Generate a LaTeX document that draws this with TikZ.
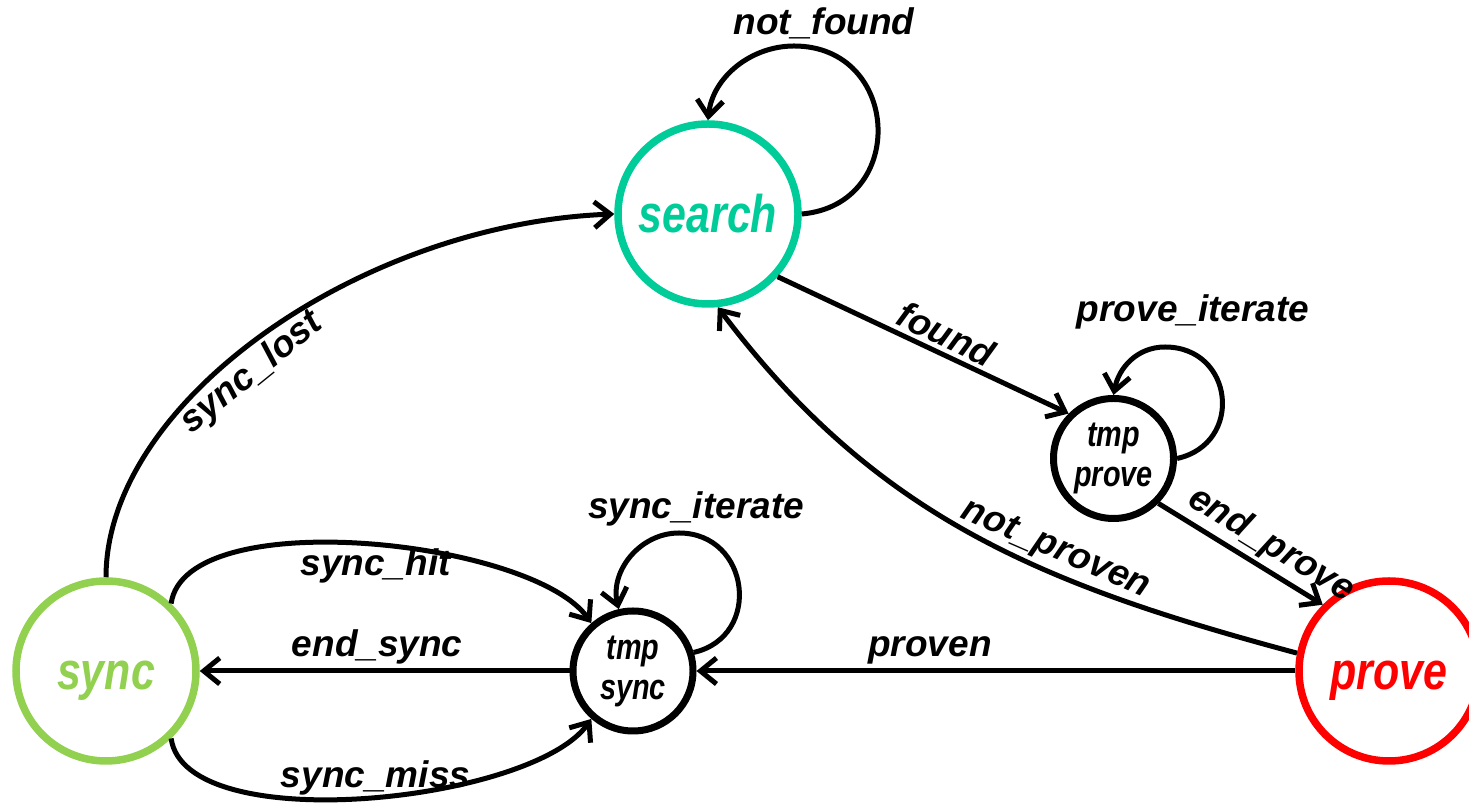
\documentclass[tikz,border=0pt]{standalone}
\usepackage{fontspec}
\setmainfont{Liberation Sans}
\usetikzlibrary{arrows.meta}

\definecolor{searchc}{HTML}{00CC99}
\definecolor{syncc}{HTML}{92D050}
\definecolor{provec}{HTML}{FF0000}

\newcommand\lblfont{\bfseries\itshape\fontsize{37pt}{44pt}\selectfont}
\newcommand\bigfont{\bfseries\itshape\fontsize{53pt}{60pt}\selectfont}
\newcommand\smallfont{\bfseries\itshape\fontsize{36pt}{40pt}\selectfont}
\newcommand\narrow[2][0.81]{\scalebox{#1}[1]{#2}}

\begin{document}
\begin{tikzpicture}[x=1pt,y=1pt,
  fsm/.style={circle, draw=#1, text=#1, line width=7.5pt, minimum size=180pt,
    inner sep=0pt, text height=38pt, text depth=0pt, font=\bigfont},
  tmpstate/.style={circle, draw=black, line width=7pt, minimum size=120pt,
    inner sep=0pt, align=center, font=\smallfont},
  edge/.style={line width=5pt, -{Straight Barb[length=16pt,width=26pt]}},
  lbl/.style={font=\lblfont, inner sep=4pt}]
\useasboundingbox (0,0) rectangle (1469,810);

% states
\node[fsm=searchc] (search) at (708,596) {\narrow{search}};
\node[fsm=syncc]   (sync)   at (106,139) {\narrow{sync}};
\node[fsm=provec]  (prove)  at (1389,139) {\narrow{prove}};
\node[tmpstate] (tprove) at (1113.5,351.5) {\narrow[0.8]{tmp}\\\narrow[0.8]{prove}};
\node[tmpstate] (tsync)  at (633,139) {\narrow[0.8]{tmp}\\\narrow[0.8]{sync}};

% tops of the self loops
\coordinate (nf) at (794,764);
\coordinate (pi) at (1165,463);
\coordinate (si) at (679,277);

% self loops
\draw[edge] (search.east) .. controls +(5:107) and +(107,0) .. (nf)
  node[lbl, above, xshift=30pt] {not\_found}
  .. controls +(-43,0) and +(4.5,43) .. (search.north);
\draw[edge] (tprove.east) .. controls +(12.5:69) and +(69,0) .. (pi)
  node[lbl, above, xshift=28pt, yshift=11pt] {prove\_iterate}
  .. controls +(-28,0) and +(5,27) .. (tprove.north);
\draw[edge] (tsync.17) .. controls +(13:71) and +(71,0) .. (si)
  node[lbl, above, xshift=17pt] {sync\_iterate}
  .. controls +(-39,0) and +(-9,38) .. (tsync.103);

% transitions
\draw[edge] (sync.north) .. controls +(0,175) and +(-255,-10) .. (search.west)
  node[lbl, pos=0.45, sloped, below] {sync\_lost};
\draw[edge] (search.-42) -- (tprove.135)
  node[lbl, pos=0.55, sloped, above] {found};
\draw[edge] (tprove.-45) -- (prove.135)
  node[lbl, pos=0.61, sloped, above] {end\_prove};
\draw[edge] (prove.169) to[out=165, in=-53]
  node[lbl, pos=0.37, sloped, above] {not\_proven} (search.-84);
\draw[edge] (prove.west) -- (tsync.east)
  node[lbl, pos=0.61, above] {proven};
\draw[edge] (tsync.west) -- (sync.east)
  node[lbl, pos=0.52, above] {end\_sync};
\draw[edge] (sync.46) to[out=82, in=125, looseness=0.62]
  node[lbl, pos=0.5, below, xshift=11pt, yshift=2pt] {sync\_hit} (tsync.131);
\draw[edge] (sync.-46) to[out=-82, in=-125, looseness=0.62]
  node[lbl, pos=0.5, above, xshift=11pt, yshift=-4pt] {sync\_miss} (tsync.-131);
\end{tikzpicture}
\end{document}
